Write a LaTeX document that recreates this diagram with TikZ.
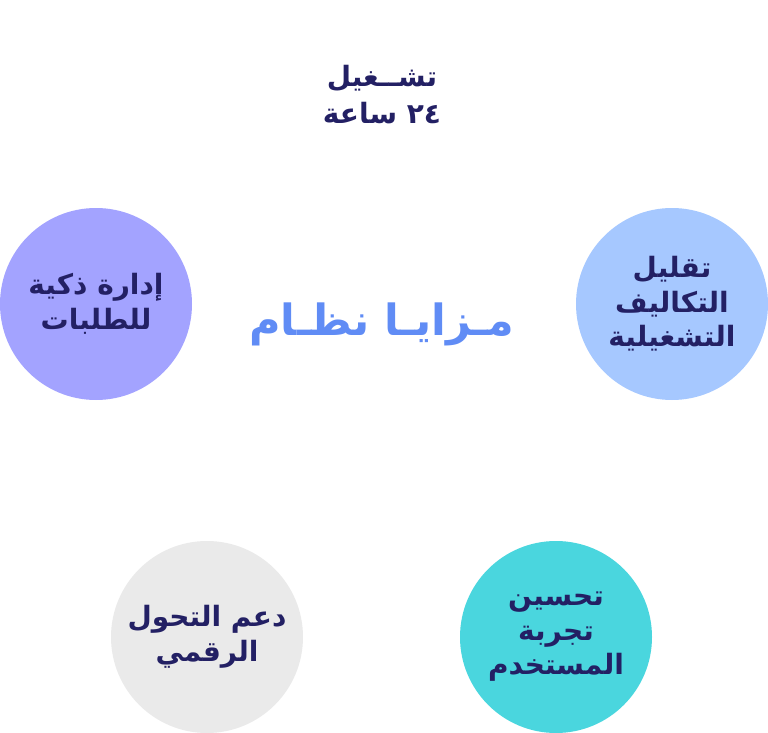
\documentclass[tikz,border=0pt]{standalone}
\usepackage{fontspec}
\newfontfamily\arabicfont[Script=Arabic]{DejaVu Sans}
\TeXXeTstate=1
\usepackage{tikz}
\usetikzlibrary{
    positioning
}
\definecolor{NavyText}{RGB}{35,32,100}
\definecolor{TitleBlue}{RGB}{96,140,245}
\definecolor{LavenderFill}{RGB}{163,163,255}
\definecolor{SkyFill}{RGB}{166,200,255}
\definecolor{GreyFill}{RGB}{234,234,234}
\definecolor{CyanFill}{RGB}{74,214,222}
\tikzset{
    featureCircle/.style={
        circle,
        minimum size=192pt,
        inner sep=0pt,
        align=center,
        text=NavyText,
        font=\arabicfont\bfseries\fontsize{28}{34.5}\selectfont
    }
}

\begin{document}
\begin{tikzpicture}[x=1pt,y=-1pt]
%
    \useasboundingbox
    (0,0)
    rectangle
    (768,733);
%
    \node[
        text=TitleBlue,
        font=\arabicfont\bfseries\fontsize{43}{50}\selectfont
    ]
    (title)
    at (382,324) {
        \beginR مـزايـا نظـام\endR
    };
%
    \node[
        align=center,
        text=NavyText,
        font=\arabicfont\bfseries\fontsize{28}{37}\selectfont
    ]
    (uptime)
    at (382,95) {
        \beginR تشــغيل\endR\\
        \beginR ٢٤ ساعة\endR
    };
%
    \node[
        featureCircle,
        fill=LavenderFill
    ]
    (orders)
    at (96,304) {
        \beginR إدارة ذكية\endR\\
        \beginR للطلبات\endR
    };
%
    \node[
        featureCircle,
        fill=SkyFill
    ]
    (costs)
    at (672,304) {
        \beginR تقليل\endR\\
        \beginR التكاليف\endR\\
        \beginR التشغيلية\endR
    };
%
    \node[
        featureCircle,
        fill=GreyFill
    ]
    (digital)
    at (207,637) {
        \beginR دعم التحول\endR\\
        \beginR الرقمي\endR
    };
%
    \node[
        featureCircle,
        fill=CyanFill
    ]
    (experience)
    at (556,637) {
        \beginR تحسين\endR\\
        \beginR تجربة\endR\\
        \beginR المستخدم\endR
    };
%
\end{tikzpicture}
\end{document}
